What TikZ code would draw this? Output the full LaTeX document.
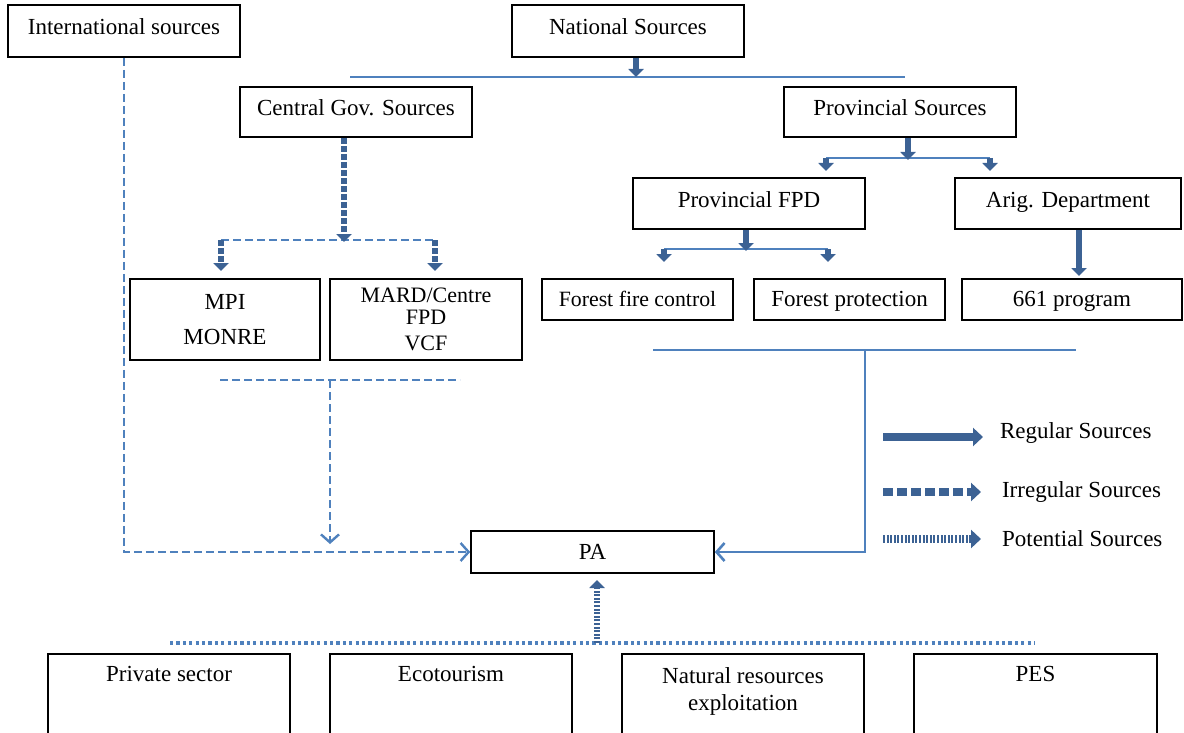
\documentclass[tikz,border=0pt]{standalone}
\usepackage{fontspec}
\setmainfont{Liberation Serif}
\usetikzlibrary{arrows.meta,positioning,calc}
\definecolor{lineblue}{RGB}{79,129,189}
\definecolor{arrblue}{RGB}{60,98,148}

\begin{document}
\begin{tikzpicture}[x=0.5pt,y=-0.5pt]
	\tikzstyle{every node}=[font=\fontsize{11.5}{13.8}\selectfont]
	\tikzstyle{box}=[draw,line width=0.8pt,inner sep=0pt,align=center]
	\tikzstyle{onerow}=[box,text height=8pt,text depth=4pt]
	\tikzstyle{lowrow}=[box,text height=9pt,text depth=2pt]
	\tikzstyle{bar}=[draw=lineblue,line width=1.3pt]
	\tikzstyle{dbar}=[draw=lineblue,line width=1.2pt,dash pattern=on 4pt off 2pt]
	\tikzstyle{pbar}=[draw=lineblue,line width=1.6pt,dash pattern=on 1.6pt off 1.6pt]
	\tikzstyle{regular}=[draw=arrblue,line width=3pt,-{Triangle[width=7.5pt,length=4pt]}]
	\tikzstyle{irregular}=[regular,dash pattern=on 3pt off 1pt]
	\tikzstyle{potential}=[regular,dash pattern=on 1pt off 0.8pt]
	\tikzstyle{open}=[-{Straight Barb[width=9pt,length=4pt]}]
	\useasboundingbox (0,0) rectangle (1184,733);

	\node[onerow,minimum width=116pt,minimum height=26pt] (intl) at (124,31) {International sources};
	\node[onerow,minimum width=116pt,minimum height=26pt] (nat) at (628,31) {National Sources};
	\node[onerow,minimum width=116pt,minimum height=25pt] (cen) at (356,112) {Central Gov. Sources};
	\node[onerow,minimum width=116pt,minimum height=25pt] (prov) at (900,112) {Provincial Sources};
	\node[box,minimum width=95pt,minimum height=40.5pt] (mpi) at (225,319.5) {MPI\\[4pt]MONRE};
	\node[box,minimum width=96pt,minimum height=40.5pt,font=\fontsize{11}{11}\selectfont] (mard) at (426,319.5) {MARD/Centre\\FPD\\[2pt]VCF};
	\node[onerow,minimum width=116pt,minimum height=25.5pt] (pfpd) at (749,203.5) {Provincial FPD};
	\node[onerow,minimum width=113pt,minimum height=25.5pt] (arig) at (1068,203.5) {Arig. Department};
	\node[lowrow,minimum width=95.5pt,minimum height=20.5pt,font=\fontsize{10.9}{13}\selectfont] (fire) at (637.5,299.5) {Forest fire control};
	\node[lowrow,minimum width=95.5pt,minimum height=20.5pt] (prot) at (849.5,299.5) {Forest protection};
	\node[lowrow,minimum width=110pt,minimum height=20.5pt] (prog) at (1072,299.5) {661 program};
	\node[lowrow,minimum width=121.5pt,minimum height=21pt] (pa) at (592.5,552) {PA};

	\node[box,anchor=north,minimum width=121pt,minimum height=50pt] (priv) at (169,653) {};
	\node[box,anchor=north,minimum width=121pt,minimum height=50pt] (eco) at (451,653) {};
	\node[box,anchor=north,minimum width=121pt,minimum height=50pt] (nre) at (743,653) {};
	\node[box,anchor=north,minimum width=121.5pt,minimum height=50pt] (pes) at (1035.5,653) {};
	\node (priv-t) at (169,674) {Private sector};
	\node (eco-t) at (451,674) {Ecotourism};
	\node[align=center,anchor=north] (nre-t) at (743,660) {Natural resources\\exploitation};
	\node (pes-t) at (1035.5,674) {PES};

	\coordinate (natbar) at (636,77);
	\coordinate (cenbar) at (344,240);
	\coordinate (provbar) at (908,158);
	\coordinate (fpdbar) at (746,249);
	\coordinate (lowbar) at (865,350);
	\coordinate (dashbar) at (330,380);
	\coordinate (potbar) at (597,643);

	\draw[bar] (350,77) -- (905,77);
	\draw[regular] (nat.south -| natbar) -- (natbar);

	\draw[dbar] (221,240) -- (435,240);
	\draw[irregular] (cen.south -| cenbar) -- ($(cenbar)+(0,2)$);
	\draw[irregular] (221,240) -- (221,271);
	\draw[irregular] (435,240) -- (435,271);

	\draw[bar] (826,158) -- (990,158);
	\draw[regular] (prov.south -| provbar) -- ($(provbar)+(0,2)$);
	\draw[regular] (826,158) -- (826,171);
	\draw[regular] (990,158) -- (990,171);

	\draw[bar] (664,249) -- (828,249);
	\draw[regular] (pfpd.south -| fpdbar) -- ($(fpdbar)+(0,2)$);
	\draw[regular] (664,249) -- (664,262);
	\draw[regular] (828,249) -- (828,262);
	\draw[regular] (arig.south -| 1079,0) -- (1079,276);

	\draw[bar] (653,350) -- (1076,350);
	\draw[bar,open] (lowbar) |- (pa.east);

	\draw[dbar] (220,380) -- (460,380);
	\draw[dbar,open] (dashbar) -- (330,544);
	\draw[dbar,open] (intl.south) |- (pa.west);

	\draw[pbar] (170,643) -- (1035,643);
	\draw[potential] (potbar) -- (597,580);

	\coordinate (leg1) at (883,437);
	\coordinate (leg2) at (883,492);
	\coordinate (leg3) at (883,539);
	\draw[regular,line width=4pt,-{Triangle[width=9pt,length=5pt]}] (leg1) -- ++(100,0);
	\draw[irregular,line width=4pt,dash pattern=on 5pt off 2pt,-{Triangle[width=9pt,length=5pt]}] (leg2) -- ++(98,0);
	\draw[potential,line width=4pt,-{Triangle[width=9pt,length=5pt]}] (leg3) -- ++(98,0);
	\node[anchor=west] (regtxt) at (993,433) {Regular Sources};
	\node[anchor=west] (irrtxt) at (995,492) {Irregular Sources};
	\node[anchor=west] (pottxt) at (995,539) {Potential Sources};
\end{tikzpicture}
\end{document}
